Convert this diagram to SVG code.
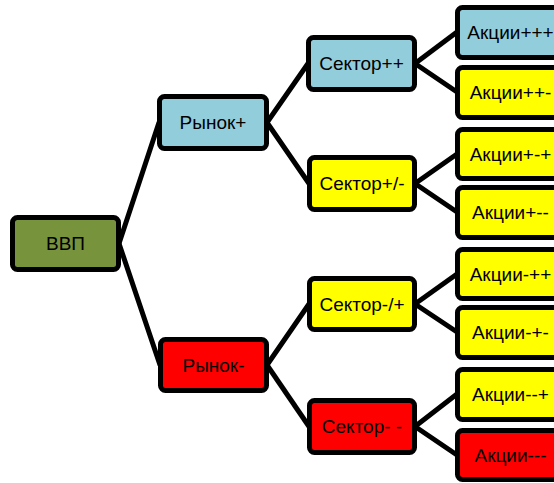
<svg xmlns="http://www.w3.org/2000/svg" width="554" height="483" viewBox="0 0 554 483">
<style>
.n{stroke:#000;stroke-width:5}
.c line{stroke:#000;stroke-width:5;stroke-linecap:round}
text{font-family:"Liberation Sans",Arial,sans-serif;font-size:19px;fill:#000;text-anchor:middle;dominant-baseline:central}
.g{fill:#77933C}.b{fill:#92CDDC}.y{fill:#FFFF00}.r{fill:#FF0000}
</style>
<g id="connectors" class="c">
<line x1="119" y1="243.5" x2="159" y2="122.5"/>
<line x1="119" y1="243.5" x2="160" y2="365"/>
<line x1="267" y1="122.5" x2="308" y2="63.5"/>
<line x1="267" y1="122.5" x2="309" y2="183.5"/>
<line x1="267" y1="365" x2="309" y2="304"/>
<line x1="267" y1="365" x2="309" y2="426.5"/>
<line x1="415" y1="63.5" x2="457" y2="32"/>
<line x1="415" y1="63.5" x2="457" y2="92"/>
<line x1="415" y1="183.5" x2="457" y2="154"/>
<line x1="415" y1="183.5" x2="457" y2="212"/>
<line x1="415" y1="304" x2="457" y2="274"/>
<line x1="415" y1="304" x2="457" y2="332"/>
<line x1="415" y1="426.5" x2="457" y2="394"/>
<line x1="415" y1="426.5" x2="457" y2="455"/>
</g>
<g id="vvp"><rect class="n g" x="12.5" y="217.5" width="106" height="52" rx="5"/><text x="65.5" y="243.5">ВВП</text></g>
<g id="rynok-plus"><rect class="n b" x="159.5" y="96.5" width="107" height="52" rx="5"/><text x="213" y="122.5">Рынок+</text></g>
<g id="rynok-minus"><rect class="n r" x="160.5" y="339.5" width="106" height="51" rx="5"/><text x="213.5" y="365">Рынок-</text></g>
<g id="sektor-pp"><rect class="n b" x="308.5" y="37.5" width="106" height="52" rx="5"/><text x="361.5" y="63.5">Сектор++</text></g>
<g id="sektor-pm"><rect class="n y" x="309.5" y="157.5" width="105" height="52" rx="5"/><text x="362" y="183.5">Сектор+/-</text></g>
<g id="sektor-mp"><rect class="n y" x="309.5" y="278.5" width="105" height="51" rx="5"/><text x="362" y="304">Сектор-/+</text></g>
<g id="sektor-mm"><rect class="n r" x="309.5" y="400.5" width="105" height="52" rx="5"/><text x="362" y="426.5">Сектор- -</text></g>
<g id="akcii-ppp"><rect class="n b" x="457.5" y="7.5" width="106" height="50" rx="5"/><text x="510.5" y="32">Акции+++</text></g>
<g id="akcii-ppm"><rect class="n y" x="457.5" y="67.5" width="106" height="50" rx="5"/><text x="510.5" y="92">Акции++-</text></g>
<g id="akcii-pmp"><rect class="n y" x="457.5" y="129.5" width="106" height="49" rx="5"/><text x="510.5" y="154">Акции+-+</text></g>
<g id="akcii-pmm"><rect class="n y" x="457.5" y="187.5" width="106" height="50" rx="5"/><text x="510.5" y="212">Акции+--</text></g>
<g id="akcii-mpp"><rect class="n y" x="457.5" y="249.5" width="106" height="49" rx="5"/><text x="510.5" y="274">Акции-++</text></g>
<g id="akcii-mpm"><rect class="n y" x="457.5" y="307.5" width="106" height="50" rx="5"/><text x="510.5" y="332">Акции-+-</text></g>
<g id="akcii-mmp"><rect class="n y" x="457.5" y="369.5" width="106" height="50" rx="5"/><text x="510.5" y="394">Акции--+</text></g>
<g id="akcii-mmm"><rect class="n r" x="457.5" y="430.5" width="106" height="49" rx="5"/><text x="510.5" y="455">Акции---</text></g>
</svg>
